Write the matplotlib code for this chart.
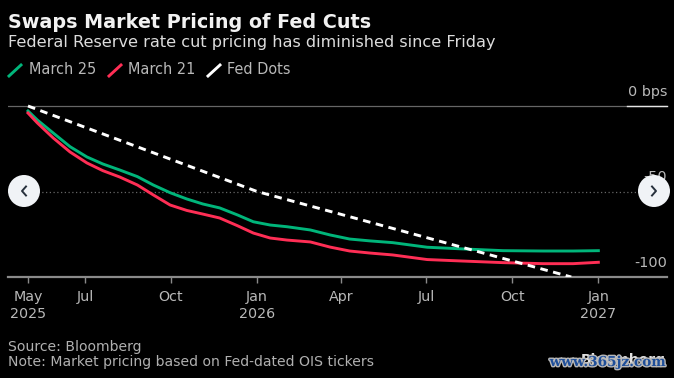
import matplotlib
matplotlib.use("Agg")
import matplotlib.pyplot as plt
import matplotlib.dates as mdates
import matplotlib.patheffects as pe
from matplotlib.patches import Circle
from matplotlib.lines import Line2D
from matplotlib.transforms import IdentityTransform
import pandas as pd

plt.rcParams['font.family'] = ['DejaVu Sans']

title = "Swaps Market Pricing of Fed Cuts"
subtitle = "Federal Reserve rate cut pricing has diminished since Friday"
series_names = ["March 25", "March 21", "Fed Dots"]

start_date = "2025-05-01"
days_since_start = [0, 10, 27, 45, 63, 80, 98, 117, 134, 152, 170, 187, 205, 224, 241, 259, 277, 302,
                    323, 344, 366, 390, 427, 462, 508, 551, 583, 610]
march25 = [-2.9, -8.2, -15.8, -23.8, -29.8, -33.9, -37.4, -41.3, -46.2, -50.7, -54.4, -57.3, -59.6, -63.7,
           -67.7, -69.6, -70.6, -72.5, -75.4, -77.8, -78.9, -79.9, -82.6, -83.5, -84.6, -84.8, -84.8, -84.6]
march21 = [-4.1, -9.9, -18.7, -26.9, -33.3, -37.8, -41.5, -46.2, -52.0, -57.9, -61.1, -63.2, -65.5, -70.0,
           -74.3, -77.2, -78.4, -79.5, -82.5, -84.8, -86.0, -87.1, -89.8, -90.6, -91.6, -92.2, -92.2, -91.4]
dots_dates = ["2025-05-01", "2026-01-01", "2026-12-03"]
dots_vals = [0, -50, -100]

tick_dates = ["2025-05-01", "2025-07-01", "2025-10-01", "2026-01-01", "2026-04-01", "2026-07-01", "2026-10-01", "2027-01-01"]
tick_labels = ["May\n2025", "Jul", "Oct", "Jan\n2026", "Apr", "Jul", "Oct", "Jan\n2027"]

W, H = 674, 378
BG = "#000000"
fig = plt.figure(figsize=(W/100, H/100), dpi=100, facecolor=BG)

def px(x, y):
    return x/W, 1-y/H

L, R, T, B = 8, 667, 100, 277
ax = fig.add_axes([L/W, 1-B/H, (R-L)/W, (B-T)/H], facecolor=BG)
d0 = mdates.date2num(pd.Timestamp(start_date))
scale = 0.935
ax.set_xlim(d0-(28-L)/scale, d0+(R-28)/scale)
yscale = 1.71
ax.set_ylim(-100, (B-T)/yscale-100)

for s in ["top", "left", "right"]:
    ax.spines[s].set_visible(False)
ax.spines["bottom"].set_color("#8a8a8a")
ax.spines["bottom"].set_linewidth(1.6)
ax.set_yticks([])
ax.set_xticks([mdates.date2num(pd.Timestamp(d)) for d in tick_dates])
ax.set_xticklabels(tick_labels, color="#b8b8b8", fontsize=10.3, linespacing=1.3)
ax.tick_params(axis="x", color="#8a8a8a", length=4, width=1, pad=5.5)

ax.axhline(0, color="#666666", lw=0.9, zorder=1)
ax.axhline(-50, color="#666666", lw=0.9, ls=(0, (1, 2)), zorder=1)
xs = [d0 + d for d in days_since_start]
ax.plot(xs, march25, color="#00b57a", lw=2.1, label=series_names[0], zorder=3, solid_joinstyle="round")
ax.plot(xs, march21, color="#ff2e55", lw=2.1, label=series_names[1], zorder=3, solid_joinstyle="round")
ax.plot(pd.to_datetime(dots_dates), dots_vals, color="#ffffff", lw=2.1, ls=(0, (2.6, 1.9)),
        label=series_names[2], zorder=4)

ftext = lambda x, y, s, **k: fig.text(*px(x, y), s, **k)
ftext(8, 22.5, title, color="#f2f2f2", fontsize=13.75, fontweight="bold", va="center")
ftext(8, 42, subtitle, color="#dcdcdc", fontsize=11.6, va="center")

# legend
legend_items = [(8, 29, "#00b57a"), (108, 128.5, "#ff2e55"), (207, 227, "#ffffff")]
for (xs_, xt, col), name in zip(legend_items, series_names):
    fig.add_artist(Line2D([px(xs_+1, 0)[0], px(xs_+13, 0)[0]], [px(0, 76)[1], px(0, 65)[1]], color=col, lw=2.1))
    ftext(xt, 70, name, color="#b8b8b8", fontsize=10.45, va="center")

# y labels
ftext(667, 92, "0 bps", color="#b8b8b8", fontsize=10.4, ha="right", va="center")
ftext(667, 177, "-50", color="#b8b8b8", fontsize=10.4, ha="right", va="center")
ftext(667, 263, "-100", color="#b8b8b8", fontsize=10.4, ha="right", va="center")
fig.add_artist(Line2D([px(627, 0)[0], px(667, 0)[0]], [px(0, 106)[1]]*2, color="#e6e6e6", lw=1))

# footer
ftext(8, 347, "Source: Bloomberg", color="#b0b0b0", fontsize=10.1, va="center")
ftext(8, 362, "Note: Market pricing based on Fed-dated OIS tickers", color="#b0b0b0", fontsize=10.1, va="center")
ftext(666, 360, "Bloomberg", color="#e0e0e0", fontsize=10, ha="right", va="center", fontweight="bold", zorder=5)
ftext(666, 362, "www.365jz.com", color="#1f4f9a", fontsize=9.8, ha="right", va="center", fontweight="bold",
      family="DejaVu Serif", zorder=6, path_effects=[pe.withStroke(linewidth=2, foreground="#b8b8b8")])

# carousel buttons
for cx, pts in [(24, [(26, 186.5), (22, 191), (26, 195.5)]), (654, [(652, 186.5), (656, 191), (652, 195.5)])]:
    c = Circle((cx, H-191), 16, transform=IdentityTransform(), facecolor="#f0f3f6", edgecolor="none", zorder=10)
    fig.add_artist(c)
    fig.add_artist(Line2D([px(p[0], 0)[0] for p in pts], [px(0, p[1])[1] for p in pts], color="#26303c", lw=1.4, zorder=11))

fig.savefig("out.png", dpi=100, facecolor=BG)
